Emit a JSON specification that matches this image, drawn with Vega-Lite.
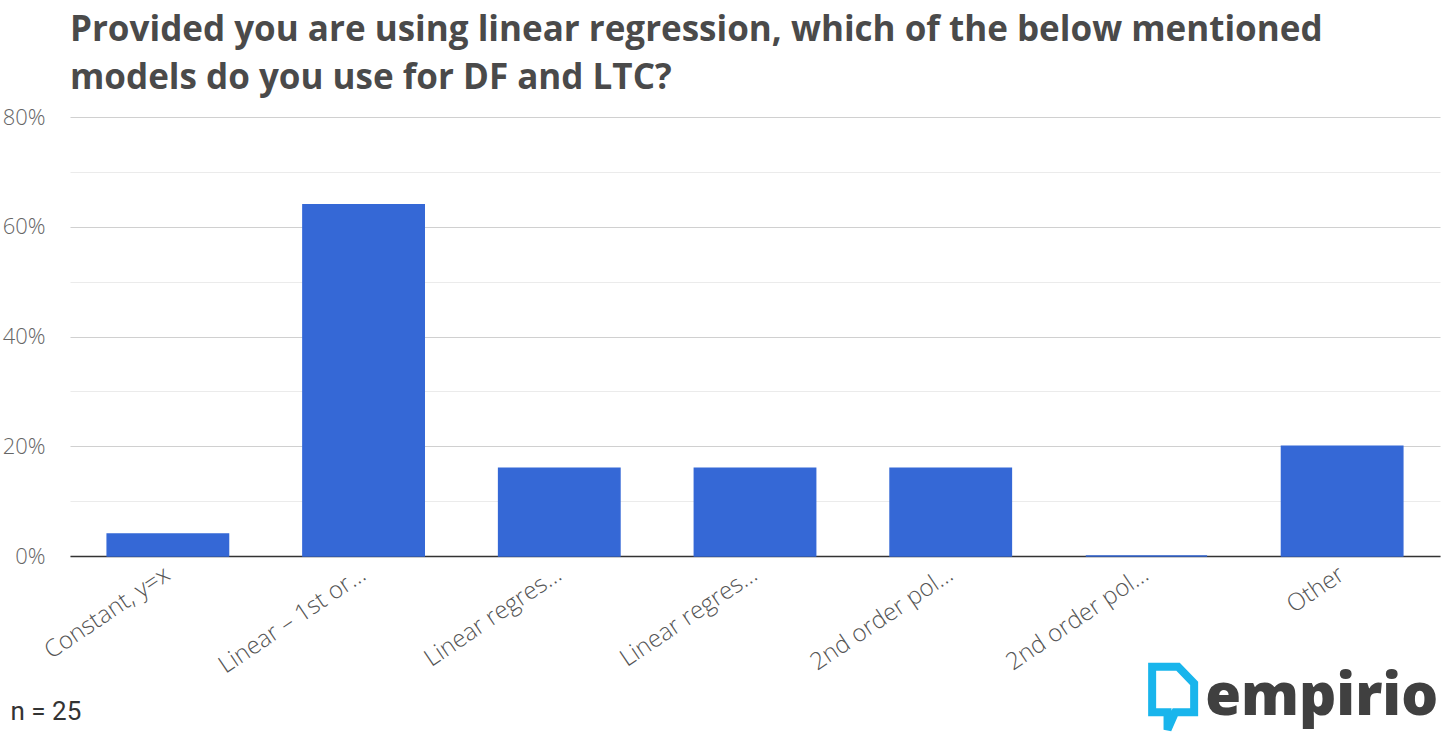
{
  "$schema": "https://vega.github.io/schema/vega-lite/v6.json",
  "width": 1370,
  "height": 439,
  "autosize": {"type": "none"},
  "padding": {"left": 70, "top": 117, "right": 3, "bottom": 182},
  "background": "white",
  "title": {
    "text": ["Provided you are using linear regression, which of the below mentioned", "models do you use for DF and LTC?"],
    "anchor": "start",
    "frame": "group",
    "font": "Open Sans",
    "fontSize": 35,
    "fontWeight": 700,
    "color": "#4a4a4a",
    "lineHeight": 48,
    "offset": 10
  },
  "config": {"view": {"stroke": null}},
  "data": {
    "values": [
      {"model": "Constant, y=x", "share": 4},
      {"model": "Linear – 1st or...", "share": 64},
      {"model": "Linear regres...", "share": 16},
      {"model": "Linear regres... ", "share": 16},
      {"model": "2nd order pol...", "share": 16},
      {"model": "2nd order pol... ", "share": 0},
      {"model": "Other", "share": 20}
    ]
  },
  "layer": [
    {
      "mark": {"type": "bar", "color": "#3568d6", "stroke": "#3568d6", "strokeWidth": 1.5},
      "encoding": {
        "x": {
          "field": "model",
          "type": "nominal",
          "sort": null,
          "scale": {"paddingInner": 0.38, "paddingOuter": 0.19},
          "axis": {
            "title": "n = 25",
            "titleAnchor": "start",
            "titleAlign": "left",
            "titleBaseline": "alphabetic",
            "titleX": -60,
            "titleY": 163,
            "titleFont": "Roboto",
            "titleFontSize": 26,
            "titleFontWeight": 400,
            "titleColor": "#333333",
            "domainColor": "#333333",
            "domainWidth": 1.5,
            "ticks": false,
            "labelAngle": -34,
            "labelAlign": "right",
            "labelBaseline": "middle",
            "labelPadding": 16,
            "labelFont": "Open Sans",
            "labelFontWeight": 300,
            "labelFontSize": 24,
            "labelColor": "#555555",
            "labelLimit": 0
          }
        },
        "y": {
          "field": "share",
          "type": "quantitative",
          "scale": {"domain": [0, 80]},
          "axis": {
            "title": null,
            "values": [0, 10, 20, 30, 40, 50, 60, 70, 80],
            "labelExpr": "datum.value % 20 === 0 ? datum.value + '%' : ''",
            "gridColor": {"condition": {"test": "datum.value % 20 === 0", "value": "#d0d0d0"}, "value": "#ebebeb"},
            "gridWidth": 1.2,
            "domain": false,
            "ticks": false,
            "labelPadding": 25,
            "labelFont": "Open Sans",
            "labelFontWeight": 300,
            "labelFontSize": 22,
            "labelColor": "#666666"
          }
        }
      }
    },
    {
      "data": {"values": [{"brand": "empirio"}]},
      "mark": {"type": "text", "align": "left", "baseline": "alphabetic", "dx": -137, "font": "Open Sans", "fontSize": 58, "fontWeight": 800, "color": "#404040"},
      "encoding": {
        "x": {"datum": "Other", "type": "nominal"},
        "y": {"datum": -29, "type": "quantitative"},
        "text": {"field": "brand"}
      }
    },
    {
      "data": {"values": [{"brand": "empirio"}]},
      "mark": {
        "type": "point",
        "xOffset": -169,
        "shape": "M -0.6 -0.9 H 0.14 L 0.6 -0.42 V 0.4 H 0.06 L -0.16 0.9 V 0.4 H -0.6 Z",
        "size": 4900,
        "filled": false,
        "stroke": "#19b5ec",
        "strokeWidth": 8,
        "strokeJoin": "miter",
        "opacity": 1
      },
      "encoding": {
        "x": {"datum": "Other", "type": "nominal"},
        "y": {"datum": -25.9, "type": "quantitative"}
      }
    }
  ]
}
